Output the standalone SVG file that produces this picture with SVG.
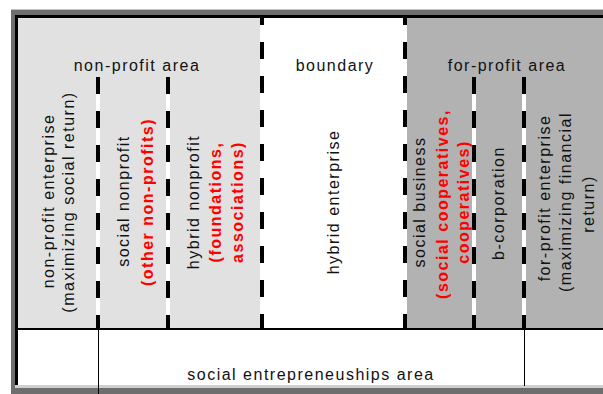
<svg xmlns="http://www.w3.org/2000/svg" width="603" height="394" viewBox="0 0 603 394">
<style>
text{font-family:"Liberation Sans",Arial,sans-serif;font-size:16px;letter-spacing:1.5px;fill:#111;text-anchor:middle}
.r{fill:#ff0000;font-weight:bold}
.wl{stroke:#fff;stroke-width:4}
.dl{stroke:#000;stroke-width:4;stroke-dasharray:17 17}
.thin{stroke:#000;stroke-width:1}
</style>
<rect width="603" height="394" fill="#fff"/>
<g id="frame">
<rect x="11" y="10" width="600" height="390" fill="#6e6e6e"/>
<line x1="11" y1="9.5" x2="603" y2="9.5" stroke="#c4c4c4"/>
<rect x="15" y="15" width="600" height="372" fill="#000"/>
<rect x="18" y="18" width="600" height="367" fill="#fff"/>
<rect x="15" y="385" width="600" height="3" fill="#cfcfcf"/>
</g>
<g id="panels">
<rect x="18" y="18" width="244" height="311" fill="#e1e1e1"/>
<rect x="262" y="18" width="143" height="311" fill="#fff"/>
<rect x="405" y="18" width="200" height="311" fill="#b2b2b2"/>
<line x1="18" y1="329" x2="603" y2="329" stroke="#000" stroke-width="2"/>
</g>
<g id="connectors">
<line class="wl" x1="98" y1="77" x2="98" y2="328"/>
<line class="dl" x1="98" y1="77" x2="98" y2="328"/>
<line class="wl" x1="168" y1="77" x2="168" y2="328"/>
<line class="dl" x1="168" y1="77" x2="168" y2="328"/>
<line class="wl" x1="474" y1="77" x2="474" y2="328"/>
<line class="dl" x1="474" y1="77" x2="474" y2="328"/>
<line class="wl" x1="524" y1="77" x2="524" y2="328"/>
<line class="dl" x1="524" y1="77" x2="524" y2="328"/>
<line class="wl" x1="262" y1="18" x2="262" y2="328"/>
<line class="dl" x1="262" y1="18" x2="262" y2="328" stroke-dashoffset="10"/>
<line class="wl" x1="405" y1="18" x2="405" y2="328"/>
<line class="dl" x1="405" y1="18" x2="405" y2="328" stroke-dashoffset="10"/>
<line class="thin" x1="98.5" y1="330" x2="98.5" y2="394"/>
<line class="thin" x1="524.5" y1="330" x2="524.5" y2="386"/>
</g>
<g id="header-nonprofit"><text x="137" y="71">non-profit area</text></g>
<g id="header-boundary"><text x="335" y="71">boundary</text></g>
<g id="header-forprofit"><text x="507" y="71">for-profit area</text></g>
<g id="col-nonprofit-enterprise">
<text transform="translate(54,201) rotate(-90)">non-profit enterprise</text>
<text transform="translate(74,202) rotate(-90)">(maximizing social return)</text>
</g>
<g id="col-social-nonprofit">
<text transform="translate(129,201) rotate(-90)">social nonprofit</text>
<text class="r" transform="translate(153,202) rotate(-90)">(other non-profits)</text>
</g>
<g id="col-hybrid-nonprofit">
<text transform="translate(199,202) rotate(-90)">hybrid nonprofit</text>
<text class="r" transform="translate(221,202) rotate(-90)">(foundations,</text>
<text class="r" transform="translate(243,202) rotate(-90)">associations)</text>
</g>
<g id="col-hybrid-enterprise">
<text transform="translate(339,202) rotate(-90)">hybrid enterprise</text>
</g>
<g id="col-social-business">
<text transform="translate(425,202) rotate(-90)">social business</text>
<text class="r" transform="translate(448,204) rotate(-90)">(social cooperatives,</text>
<text class="r" transform="translate(469,202) rotate(-90)">cooperatives)</text>
</g>
<g id="col-b-corporation">
<text transform="translate(504,203) rotate(-90)">b-corporation</text>
</g>
<g id="col-forprofit-enterprise">
<text transform="translate(550,198) rotate(-90)">for-profit enterprise</text>
<text transform="translate(571,202) rotate(-90)">(maximizing financial</text>
<text transform="translate(594,204) rotate(-90)">return)</text>
</g>
<g id="area-social-entrepreneurship">
<text x="311" y="380">social entrepreneuships area</text>
</g>
</svg>
